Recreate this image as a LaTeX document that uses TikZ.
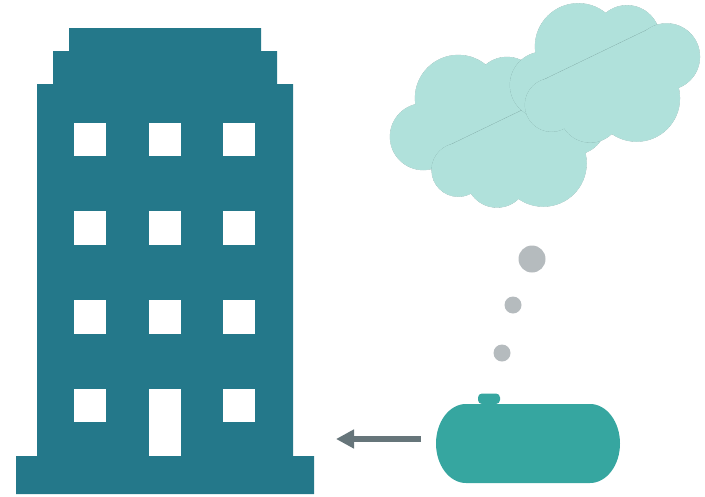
\documentclass[tikz,border=0pt]{standalone}
\usepackage{xcolor}
\usetikzlibrary{positioning,arrows.meta}
\definecolor{towerTeal}{HTML}{24788A}
\definecolor{tankTeal}{HTML}{36A6A0}
\definecolor{cloudMint}{HTML}{B0E1DB}
\definecolor{cloudEdge}{HTML}{7FA8A4}
\definecolor{dropGrey}{HTML}{B5BBBE}
\definecolor{arrowGrey}{HTML}{66757A}

\begin{document}
\begin{tikzpicture}[
    x=1pt, y=-1pt,
    towerPart/.style={fill=towerTeal, draw=none},
    windowBox/.style={fill=white, draw=none},
    cloudLine/.style={draw=cloudEdge, line width=0.3pt},
    cloudFill/.style={fill=cloudMint, draw=none},
    dropDot/.style={circle, fill=dropGrey, draw=none, inner sep=0pt},
    tankBody/.style={fill=tankTeal, draw=none},
    arrowFlow/.style={-{Triangle[length=18pt,width=18pt]}, line width=6pt, draw=arrowGrey}
]
    \useasboundingbox (0,0) rectangle (705,496);

    % Tower
    \fill[towerPart] (16,494) -- (16,456) -- (37,456) -- (37,84) -- (53,84) -- (53,51)
        -- (69,51) -- (69,28) -- (261,28) -- (261,51) -- (277,51) -- (277,84)
        -- (293,84) -- (293,456) -- (314,456) -- (314,494) -- cycle;
    \foreach \winX in {74,149,223}
        \foreach \winY/\winH in {123/33,211/34,300/34}
            \fill[windowBox] (\winX,\winY) rectangle ++(32,\winH);
    \fill[windowBox] (74,389) rectangle ++(32,33);
    \fill[windowBox] (223,389) rectangle ++(32,33);
    \fill[windowBox] (149,389) rectangle ++(32,67);

    % Clouds, drawn back to front
    \foreach \shiftX/\shiftY/\frontX/\frontY in {0/0/0/0, 120/-51.7/93.3/-65} {
        \begin{scope}[shift={(\shiftX,\shiftY)}]
            \foreach \cx/\cy/\cr in {423.3/136.7/33.3, 458.3/98.3/43.3, 507/90/33}
                \path[cloudLine] (\cx,\cy) circle[radius=\cr];
            \foreach \cx/\cy/\cr in {423.3/136.7/33.3, 458.3/98.3/43.3, 507/90/33}
                \path[cloudFill] (\cx,\cy) circle[radius=\cr];
            \fill[cloudFill] (423.3,136.7) -- (458.3,98.3) -- (507,90) -- (520,120) -- (458,170) -- cycle;
        \end{scope}
        \begin{scope}[shift={(\frontX,\frontY)}]
            \foreach \cx/\cy/\cr in {458.3/170/26.7, 497/176.5/31, 543.3/163.3/43.3, 573.3/121.7/33.3}
                \path[cloudLine] (\cx,\cy) circle[radius=\cr];
            \draw[cloudLine] (447.5,146) -- (563.3,90.1);
            \foreach \cx/\cy/\cr in {458.3/170/26.7, 497/176.5/31, 543.3/163.3/43.3, 573.3/121.7/33.3}
                \path[cloudFill] (\cx,\cy) circle[radius=\cr];
            \fill[cloudFill] (447.8,146.3) -- (563.5,90.5) -- (573.3,121.7) -- (543.3,163.3) -- (497,176.5) -- (458.3,170) -- cycle;
        \end{scope}
    }

    % Drops
    \node[dropDot, minimum size=27pt] (dropTop) at (532,259) {};
    \node[dropDot, minimum size=17pt] (dropMid) at (513,305) {};
    \node[dropDot, minimum size=17pt] (dropLow) at (502,353) {};

    % Tank
    \fill[tankBody, rounded corners=4pt] (478,404) -- (478,393.5) -- (500,393.5) -- (500,404) -- cycle;
    \fill[tankBody] (466,404) -- (590,404) arc[start angle=90, end angle=-90, x radius=30, y radius=-39.5]
        -- (466,483) arc[start angle=-90, end angle=-270, x radius=30, y radius=-39.5] -- cycle;

    % Flow out of the tank
    \coordinate (flowTail) at (421,439);
    \coordinate (flowHead) at (336,439);
    \draw[arrowFlow] (flowTail) -- (flowHead);
\end{tikzpicture}
\end{document}
